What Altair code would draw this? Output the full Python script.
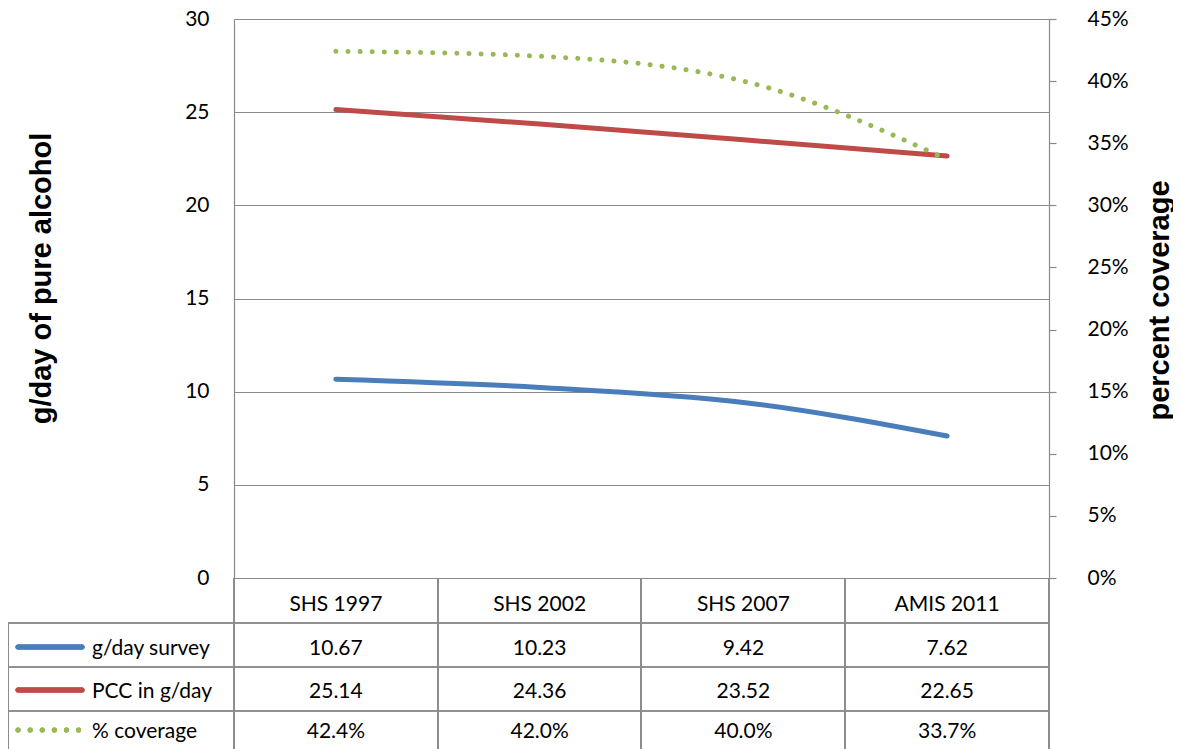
import altair as alt
import pandas as pd

categories = ["SHS 1997", "SHS 2002", "SHS 2007", "AMIS 2011"]
survey = [10.67, 10.23, 9.42, 7.62]
pcc = [25.14, 24.36, 23.52, 22.65]
coverage = [0.424, 0.420, 0.400, 0.337]
series_names = ["g/day survey", "PCC in g/day", "% coverage"]
left_ticks = [0, 5, 10, 15, 20, 25, 30]
right_ticks = [0, 0.05, 0.10, 0.15, 0.20, 0.25, 0.30, 0.35, 0.40, 0.45]

BLUE = "#4A7EBB"
RED = "#BE4B48"
GREEN = "#98B954"
GRID = "#8a8a8a"
FONT = "Lato"
TFONT = "Liberation Sans"
FS = 21

W, H = 815, 559

left_df = pd.DataFrame(
    {"cat": categories * 2,
     "series": [series_names[0]] * 4 + [series_names[1]] * 4,
     "value": survey + pcc}
)
cov_df = pd.DataFrame({"cat": categories, "cov": coverage})
tab_df = pd.DataFrame({"cat": categories, "survey": survey, "pcc": pcc, "cov": coverage})

xenc = alt.X("cat:N", sort=categories,
             scale=alt.Scale(type="point", domain=categories, padding=0.5),
             axis=None)

left_lines = alt.Chart(left_df).mark_line(
    strokeWidth=5, strokeCap="round", interpolate="monotone"
).encode(
    x=xenc,
    y=alt.Y("value:Q", scale=alt.Scale(domain=[0, 30], nice=False),
            axis=alt.Axis(orient="left", values=left_ticks, grid=True,
                          gridColor=GRID, gridWidth=1.2, domain=True,
                          domainColor=GRID, domainWidth=1.2, ticks=False,
                          labelPadding=25, labelFont=FONT, labelFontSize=FS,
                          labelColor="black",
                          title="g/day of pure alcohol", titleFont=TFONT,
                          titleFontSize=29, titleFontWeight="bold",
                          titleColor="black", titleAngle=-90,
                          titleX=-193, titleY=259, titleAlign="center",
                          titleBaseline="middle")),
    color=alt.Color("series:N", scale=alt.Scale(domain=series_names[:2], range=[BLUE, RED]),
                    legend=None),
)

right_line = alt.Chart(cov_df).mark_line(
    strokeWidth=5, strokeCap="round", strokeDash=[0.1, 12],
    color=GREEN, interpolate="monotone"
).encode(
    x=xenc,
    y=alt.Y("cov:Q", scale=alt.Scale(domain=[0, 0.45], nice=False),
            axis=alt.Axis(orient="right", values=right_ticks, format=".0%",
                          grid=False, domain=True, domainColor=GRID,
                          domainWidth=1.2, ticks=True, tickSize=7,
                          tickColor=GRID, tickWidth=1.2, labelPadding=31,
                          labelFont=FONT, labelFontSize=FS, labelColor="black",
                          title="percent coverage", titleFont=TFONT,
                          titleFontSize=29, titleFontWeight="bold",
                          titleColor="black", titleAngle=-90,
                          titleX=110, titleY=281, titleAlign="center",
                          titleBaseline="middle")),
)

# table grid lines (layout)
rules = []
col_edges = [0, 204, 407, 611, 815]
for xe in col_edges:
    rules.append(alt.Chart(cov_df).mark_rule(color=GRID, strokeWidth=1.2).encode(
        x=alt.value(xe), y=alt.value(559), y2=alt.value(740)))
rules.append(alt.Chart(cov_df).mark_rule(color=GRID, strokeWidth=1.2).encode(
    x=alt.value(-226), y=alt.value(604), y2=alt.value(740)))
for ye in [604, 648, 692]:
    rules.append(alt.Chart(cov_df).mark_rule(color=GRID, strokeWidth=1.2).encode(
        x=alt.value(-226), x2=alt.value(815), y=alt.value(ye)))

text_kw = dict(font=FONT, fontSize=FS, color="black", baseline="middle", align="center")
header = alt.Chart(tab_df).mark_text(**text_kw).encode(
    x=xenc, y=alt.value(586), text="cat:N")
row1 = alt.Chart(tab_df).mark_text(**text_kw).encode(
    x=xenc, y=alt.value(630), text=alt.Text("survey:Q", format=".2f"))
row2 = alt.Chart(tab_df).mark_text(**text_kw).encode(
    x=xenc, y=alt.value(673), text=alt.Text("pcc:Q", format=".2f"))
row3 = alt.Chart(tab_df).mark_text(**text_kw).encode(
    x=xenc, y=alt.value(713), text=alt.Text("cov:Q", format=".1%"))

legend_layers = []
row_ys = [630, 673, 713]
colors = [BLUE, RED, GREEN]
leg_df = pd.DataFrame({"name": series_names})
for i, (nm, col, ry) in enumerate(zip(series_names, colors, row_ys)):
    kw = dict(color=col, strokeWidth=5, strokeCap="round")
    if i == 2:
        kw["strokeDash"] = [0.1, 12]
    legend_layers.append(alt.Chart(leg_df).mark_rule(**kw).encode(
        x=alt.value(-216), x2=alt.value(-152), y=alt.value(ry - 2)))
    legend_layers.append(alt.Chart(leg_df).transform_filter(
        alt.datum.name == nm).mark_text(
        font=FONT, fontSize=FS, color="black", baseline="middle", align="left").encode(
        x=alt.value(-142), y=alt.value(ry), text="name:N"))

chart = alt.layer(
    left_lines, right_line, *rules, header, row1, row2, row3, *legend_layers
).resolve_scale(y="independent").properties(
    width=W, height=H,
    autosize=alt.AutoSizeParams(type="none"),
    padding={"left": 226, "top": 11, "right": 124, "bottom": 171},
).configure_view(stroke=None).configure(background="white")

chart.save("out.html", embed_options={"renderer": "svg", "actions": False})
